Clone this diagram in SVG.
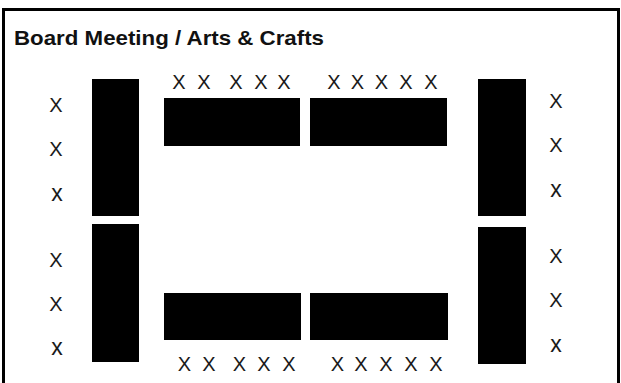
<svg xmlns="http://www.w3.org/2000/svg" width="621" height="383" viewBox="0 0 621 383">
<style>
.t{fill:#000;}
.s{font-family:"Liberation Sans",Arial,sans-serif;font-size:20px;fill:#1a1a1a;text-anchor:middle;}
.sx{font-family:"Liberation Sans",Arial,sans-serif;font-size:23px;fill:#1a1a1a;text-anchor:middle;}
.title{font-family:"Liberation Sans",Arial,sans-serif;font-size:21px;font-weight:bold;fill:#111;}
</style>
<rect width="621" height="383" fill="#fff"/>
<path d="M3.5,383 V9.5 H618.5 V383" fill="none" stroke="#000" stroke-width="3"/>
<text class="title" x="14" y="45" textLength="310" lengthAdjust="spacingAndGlyphs">Board Meeting / Arts &amp; Crafts</text>
<g id="tables">
<rect id="table-left-top" class="t" x="92" y="79" width="47" height="137"/>
<rect id="table-left-bottom" class="t" x="92" y="224" width="47" height="138"/>
<rect id="table-top-left" class="t" x="164" y="98" width="136" height="48"/>
<rect id="table-top-right" class="t" x="310" y="98" width="137" height="48"/>
<rect id="table-bottom-left" class="t" x="164" y="293" width="137" height="47"/>
<rect id="table-bottom-right" class="t" x="310" y="293" width="138" height="47"/>
<rect id="table-right-top" class="t" x="478" y="79" width="48" height="137"/>
<rect id="table-right-bottom" class="t" x="478" y="227" width="48" height="137"/>
</g>
<g id="seats-top">
<text class="s" x="179" y="89">X</text>
<text class="s" x="204" y="89">X</text>
<text class="s" x="236" y="89">X</text>
<text class="s" x="261" y="89">X</text>
<text class="s" x="284" y="89">X</text>
<text class="s" x="334" y="89">X</text>
<text class="s" x="357.5" y="89">X</text>
<text class="s" x="381.5" y="89">X</text>
<text class="s" x="406" y="89">X</text>
<text class="s" x="431" y="89">X</text>
</g>
<g id="seats-bottom">
<text class="s" x="184.5" y="371">X</text>
<text class="s" x="209" y="371">X</text>
<text class="s" x="239.5" y="371">X</text>
<text class="s" x="264" y="371">X</text>
<text class="s" x="289" y="371">X</text>
<text class="s" x="337.5" y="371">X</text>
<text class="s" x="361" y="371">X</text>
<text class="s" x="386" y="371">X</text>
<text class="s" x="411" y="371">X</text>
<text class="s" x="436" y="371">X</text>
</g>
<g id="seats-left">
<text class="s" x="56" y="112">X</text>
<text class="s" x="56" y="156">X</text>
<text class="sx" x="57" y="201">x</text>
<text class="s" x="56" y="267">X</text>
<text class="s" x="56" y="311">X</text>
<text class="sx" x="57" y="355">x</text>
</g>
<g id="seats-right">
<text class="s" x="556" y="108">X</text>
<text class="s" x="556" y="152">X</text>
<text class="sx" x="556" y="197">x</text>
<text class="s" x="556" y="263">X</text>
<text class="s" x="556" y="307">X</text>
<text class="sx" x="556" y="352">x</text>
</g>
</svg>
